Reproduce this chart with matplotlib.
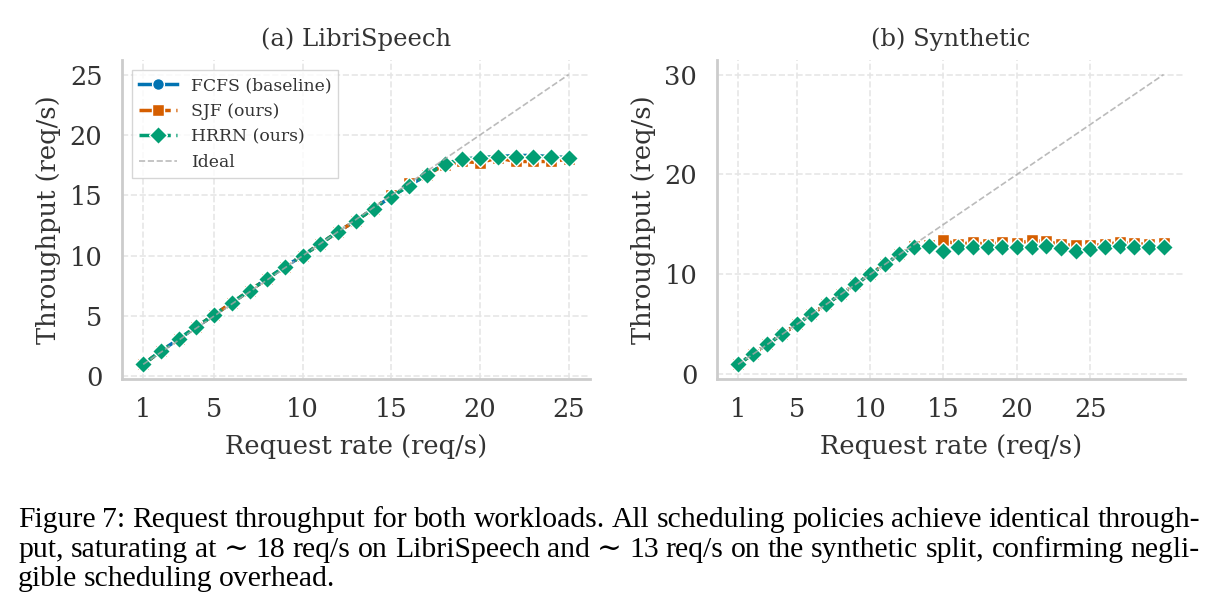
import numpy as np
import matplotlib
matplotlib.use("Agg")
import matplotlib.pyplot as plt

# LibriSpeech
rate_a = list(range(1, 26))
fcfs_a = [1.0, 2.1, 3.1, 4.1, 5.1, 6.1, 7.1, 8.1, 9.1, 10.0, 11.0, 12.0, 12.9, 13.9, 14.9,
          15.8, 16.7, 17.6, 18.0, 18.1, 18.2, 18.3, 18.3, 18.2, 18.1]
sjf_a = [1.0, 2.1, 3.1, 4.1, 5.1, 6.1, 7.1, 8.1, 9.1, 10.0, 11.0, 12.0, 12.9, 13.9, 15.0,
         16.0, 16.7, 17.5, 17.8, 17.7, 18.1, 17.8, 17.8, 17.8, 18.0]
hrrn_a = [1.0, 2.1, 3.1, 4.1, 5.1, 6.1, 7.1, 8.1, 9.1, 10.0, 11.0, 12.0, 12.9, 13.9, 14.9,
          15.8, 16.7, 17.6, 18.0, 18.1, 18.2, 18.2, 18.2, 18.2, 18.1]

# Synthetic
rate_b = list(range(1, 31))
fcfs_b = [1.0, 2.0, 3.0, 4.0, 5.0, 6.0, 7.0, 8.0, 9.0, 10.0, 11.0, 12.0, 12.7, 12.8, 12.5,
          12.7, 12.8, 12.7, 12.7, 12.7, 12.8, 12.9, 12.7, 12.5, 12.6, 12.8, 12.9, 12.7, 12.7, 12.8]
sjf_b = [1.0, 2.0, 3.0, 4.0, 5.0, 6.0, 7.0, 8.0, 9.0, 10.0, 11.0, 12.0, 12.8, 12.9, 13.4,
         13.0, 13.2, 13.0, 13.2, 13.1, 13.4, 13.3, 13.0, 12.9, 12.9, 13.0, 13.2, 13.1, 13.0, 13.1]
hrrn_b = [1.0, 2.0, 3.0, 4.0, 5.0, 6.0, 7.0, 8.0, 9.0, 10.0, 11.0, 12.0, 12.7, 12.8, 12.3,
          12.7, 12.7, 12.7, 12.7, 12.7, 12.7, 12.8, 12.6, 12.3, 12.5, 12.7, 12.8, 12.7, 12.7, 12.7]

xticks = [1, 5, 10, 15, 20, 25]
yticks_a = [0, 5, 10, 15, 20, 25]
yticks_b = [0, 10, 20, 30]

caption = [
    "Figure 7: Request throughput for both workloads. All scheduling policies achieve identical through-",
    "put, saturating at ∼ 18 req/s on LibriSpeech and ∼ 13 req/s on the synthetic split, confirming negli-",
    "gible scheduling overhead.",
]

plt.rcParams['font.family'] = 'DejaVu Serif'

W, H = 1219, 613
fig = plt.figure(figsize=(W / 100, H / 100), dpi=100)
ax1 = fig.add_axes([0.100, 0.382, 0.384, 0.520])
ax2 = fig.add_axes([0.588, 0.382, 0.384, 0.520])

blue = '#0173B2'
orange = '#D55E00'
green = '#029E73'
txt = '#333333'


def panel(ax, x, fcfs, sjf, hrrn, yticks, title):
    ax.plot(x, fcfs, color=blue, ls='-', lw=2.5, marker='o', ms=8.5, mec='white', mew=1, label='FCFS (baseline)')
    ax.plot(x, sjf, color=orange, ls='--', lw=2.5, marker='s', ms=8.5, mec='white', mew=1, label='SJF (ours)')
    ax.plot(x, hrrn, color=green, ls='-.', lw=2.5, marker='D', ms=9.5, mec='white', mew=1, label='HRRN (ours)')
    ax.plot(x, x, color='#aaaaaa', ls='--', lw=1.2, alpha=0.8, label='Ideal')
    ax.set_xticks(xticks)
    ax.set_yticks(yticks)
    ax.grid(True, ls='--', color='#e6e6e6', lw=1.2)
    ax.set_axisbelow(True)
    for s in ['top', 'right']:
        ax.spines[s].set_visible(False)
    for s in ['left', 'bottom']:
        ax.spines[s].set_color('#cccccc')
        ax.spines[s].set_linewidth(2)
    ax.tick_params(axis='x', length=0, pad=13, labelsize=18.5, labelcolor=txt)
    ax.tick_params(axis='y', length=0, pad=14, labelsize=18.5, labelcolor=txt)
    ax.set_xlabel('Request rate (req/s)', fontsize=18.5, color=txt, labelpad=9)
    ax.set_ylabel('Throughput (req/s)', fontsize=18.5, color=txt, labelpad=6)
    ax.set_title(title, fontsize=17.5, color=txt, pad=10)


panel(ax1, rate_a, fcfs_a, sjf_a, hrrn_a, yticks_a, '(a) LibriSpeech')
panel(ax2, rate_b, fcfs_b, sjf_b, hrrn_b, yticks_b, '(b) Synthetic')

leg = ax1.legend(loc='upper left', fontsize=12.4, frameon=True, fancybox=False, handlelength=2.2,
                 borderaxespad=0.6)
leg.get_frame().set_edgecolor('#cccccc')
for t in leg.get_texts():
    t.set_color(txt)

# caption, justified by hand on the first two lines
renderer = fig.canvas.get_renderer()
cap_font = dict(fontsize=21.3, family=['Liberation Serif', 'DejaVu Serif'], color='black')
left, right = 18, 1200
baselines = [527, 557, 586]
for i, line in enumerate(caption):
    words = line.split(' ')
    widths = []
    for w in words:
        t = fig.text(0, 0, w, **cap_font)
        widths.append(t.get_window_extent(renderer).width)
        t.remove()
    if i < len(caption) - 1:
        gap = (right - left - sum(widths)) / (len(words) - 1)
    else:
        gap = 6.5
    xpos = left
    for w, wd in zip(words, widths):
        fig.text(xpos / W, 1 - baselines[i] / H, w, va='baseline', ha='left', **cap_font)
        xpos += wd + gap

fig.savefig('out.png', dpi=100)
